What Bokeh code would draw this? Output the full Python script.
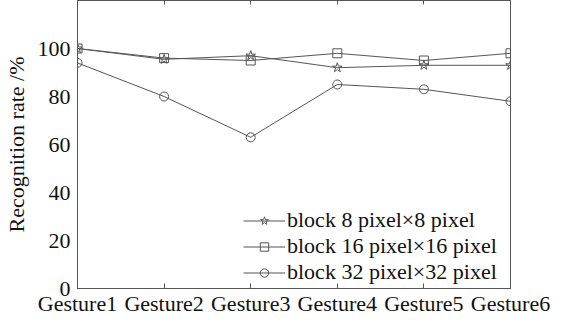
from bokeh.plotting import figure
from bokeh.models import Range1d, FixedTicker, LinearAxis, Legend, LegendItem
from bokeh.embed import file_html
from bokeh.resources import INLINE

categories = ["Gesture1", "Gesture2", "Gesture3", "Gesture4", "Gesture5", "Gesture6"]
block8 = [100, 95.5, 97, 92, 93, 93]
block16 = [100, 96, 95, 98, 95, 98]
block32 = [94, 80, 63, 85, 83, 78]
series_labels = ["block 8 pixel\u00d78 pixel", "block 16 pixel\u00d716 pixel", "block 32 pixel\u00d732 pixel"]
y_ticks = [0, 20, 40, 60, 80, 100]

FONT = "Liberation Serif"
LINE = "#555555"
TEXT = "#111111"

xs = list(range(len(categories)))

p = figure(width=570, height=318, output_backend="svg", toolbar_location=None,
           x_range=Range1d(0, len(categories) - 1), y_range=Range1d(0, 120),
           min_border_left=63, min_border_right=60, min_border_top=0, min_border_bottom=0)
p.xgrid.visible = False
p.ygrid.visible = False
p.outline_line_color = LINE
p.outline_line_width = 1
p.background_fill_color = "white"
p.border_fill_color = "white"

# x axis
p.xaxis.ticker = FixedTicker(ticks=xs)
p.xaxis.major_label_overrides = {i: c for i, c in enumerate(categories)}
p.xaxis.major_tick_in = 5
p.xaxis.major_tick_out = 0
p.xaxis.minor_tick_line_color = None
p.xaxis.axis_line_color = LINE
p.xaxis.major_tick_line_color = LINE
p.xaxis.major_label_text_font = FONT
p.xaxis.major_label_text_font_size = "22px"
p.xaxis.major_label_text_color = TEXT
p.xaxis.major_label_standoff = 2
p.xaxis.axis_label = None
p.xaxis.axis_label_standoff = 0

# top axis (ticks only)
top = LinearAxis(ticker=FixedTicker(ticks=xs),
                 major_label_overrides={i: "" for i in xs},
                 major_tick_in=4, major_tick_out=0, minor_tick_line_color=None,
                 axis_line_color=LINE, major_tick_line_color=LINE, major_label_standoff=0,
                 axis_label=None, axis_label_standoff=0)
p.add_layout(top, "above")

# y axis
p.yaxis.ticker = FixedTicker(ticks=y_ticks)
p.yaxis.major_tick_in = 0
p.yaxis.major_tick_out = 0
p.yaxis.minor_tick_line_color = None
p.yaxis.axis_line_color = LINE
p.yaxis.major_label_text_font = FONT
p.yaxis.major_label_text_font_size = "22px"
p.yaxis.major_label_text_color = TEXT
p.yaxis.major_label_standoff = 7
p.yaxis.axis_label = "Recognition rate /%"
p.yaxis.axis_label_text_font = FONT
p.yaxis.axis_label_text_font_size = "22px"
p.yaxis.axis_label_text_font_style = "normal"
p.yaxis.axis_label_text_color = TEXT
p.yaxis.axis_label_standoff = 6

items = []
for vals, marker, size, label in [(block8, "star", 10, series_labels[0]),
                                  (block16, "square", 9, series_labels[1]),
                                  (block32, "circle", 9, series_labels[2])]:
    l = p.line(xs, vals, line_color=LINE, line_width=1)
    m = p.scatter(xs, vals, marker=marker, size=size, line_color=LINE, line_width=1,
                  fill_color=None)
    items.append(LegendItem(label=label, renderers=[l, m]))

legend = Legend(items=items, location=(166, 3), padding=0, margin=0, spacing=-9,
                glyph_width=42, glyph_height=21, label_height=21, label_standoff=2,
                label_text_font=FONT, label_text_font_size="22px", label_text_color=TEXT,
                border_line_alpha=0, background_fill_alpha=0)
p.add_layout(legend, "center")

open("out.html", "w").write(file_html(p, INLINE))
